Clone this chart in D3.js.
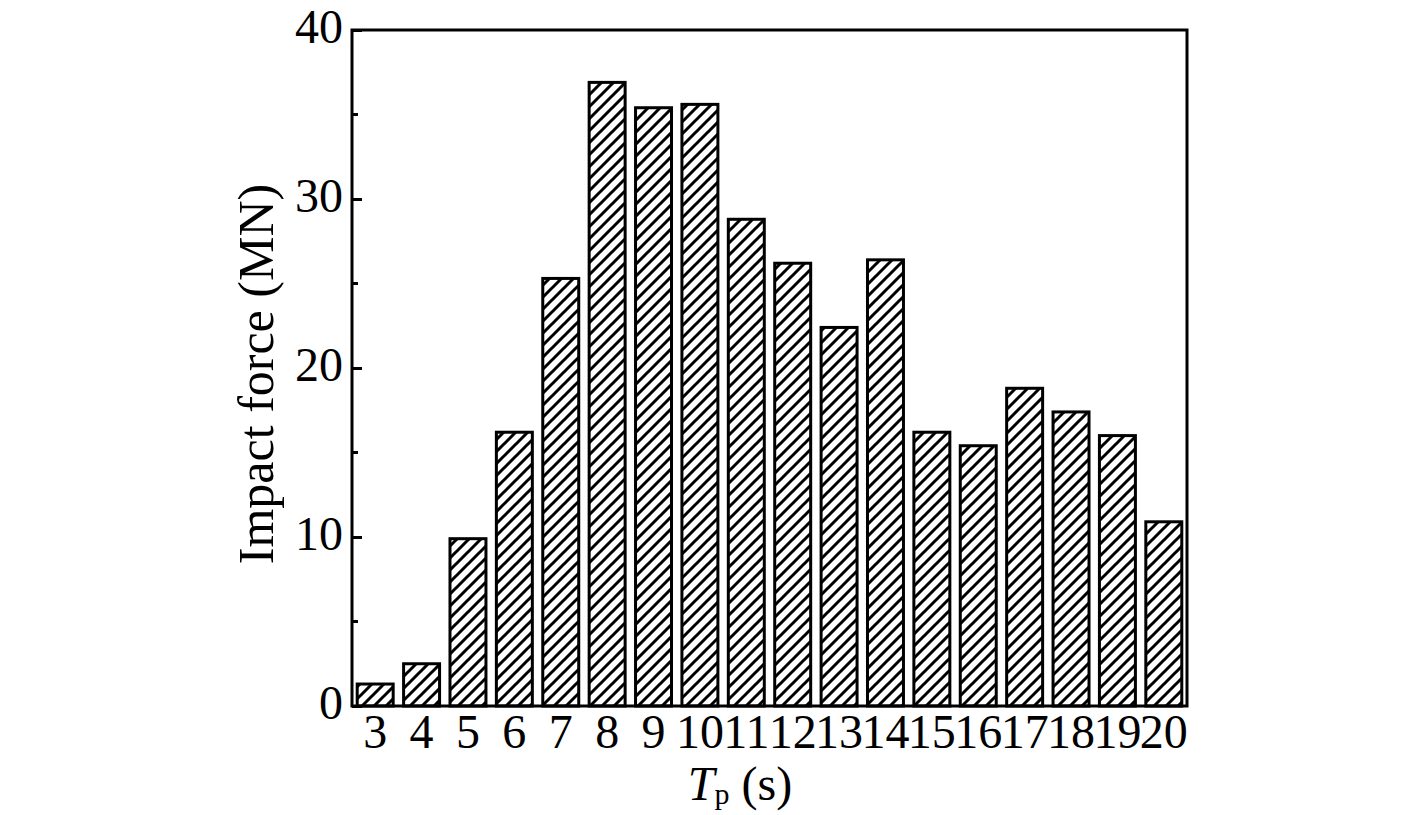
<!DOCTYPE html>
<html><head><meta charset="utf-8">
<script src="https://cdn.jsdelivr.net/npm/d3@7"></script>
<style>body{margin:0;background:#fff}svg{display:block}</style>
</head><body>
<svg id="c" width="1418" height="815"></svg>
<script>
const categories = [3,4,5,6,7,8,9,10,11,12,13,14,15,16,17,18,19,20];
const impactForce = [1.3,2.5,9.9,16.2,25.3,36.9,35.4,35.6,28.8,26.2,22.4,26.4,16.2,15.4,18.8,17.4,16.0,10.9];
const yTicks = [0,10,20,30,40];
const yMinorTicks = [5,15,25,35];

const svg = d3.select("#c");
const L = 352, R = 1187, T = 30, B = 706;
const font = "'Liberation Serif','Times New Roman',serif";

const defs = svg.append("defs");
const pat = defs.append("pattern").attr("id","hatch").attr("patternUnits","userSpaceOnUse")
  .attr("width",12).attr("height",12);
pat.append("path").attr("d","M-3,3 L3,-3 M0,12 L12,0 M9,15 L15,9")
  .attr("stroke","#000").attr("stroke-width",3);

const x = d3.scaleBand().domain(categories).range([L,R]).paddingInner(0.16).paddingOuter(0.08);
const y = d3.scaleLinear().domain([0,40]).range([B,T]);

svg.append("g").selectAll("rect").data(categories).join("rect")
  .attr("x",d=>x(d)+1.5).attr("width",x.bandwidth()-3)
  .attr("y",(d,i)=>y(impactForce[i])).attr("height",(d,i)=>B-y(impactForce[i]))
  .attr("fill","url(#hatch)").attr("stroke","#000").attr("stroke-width",3);

// frame
svg.append("rect").attr("x",L).attr("y",T).attr("width",R-L).attr("height",B-T)
  .attr("fill","none").attr("stroke","#000").attr("stroke-width",3);

// y axis
const yAxis = d3.axisLeft(y).tickValues(yTicks).tickSize(-10).tickPadding(9).tickFormat(d3.format("d"));
const gy = svg.append("g").attr("transform",`translate(${L},0)`).call(yAxis);
gy.select(".domain").remove();
gy.selectAll(".tick line").attr("stroke-width",3);
gy.selectAll(".tick text").attr("font-family",font).attr("font-size",48).attr("fill","#000").attr("dy","0.26em");
svg.append("g").selectAll("line").data(yMinorTicks).join("line")
  .attr("x1",L).attr("x2",L+6).attr("y1",d=>y(d)).attr("y2",d=>y(d))
  .attr("stroke","#000").attr("stroke-width",3);

// x axis labels
const xAxis = d3.axisBottom(x).tickSize(0).tickPadding(8);
const gx = svg.append("g").attr("transform",`translate(0,${B})`).call(xAxis);
gx.select(".domain").remove();
gx.selectAll(".tick text").attr("font-family",font).attr("font-size",48).attr("fill","#000");

// titles
svg.append("text").attr("transform",`translate(273,${(T+B)/2 + 6}) rotate(-90)`)
  .attr("text-anchor","middle").attr("font-family",font).attr("font-size",50).attr("fill","#000")
  .text("Impact force (MN)");

const xt = svg.append("text").attr("x",740).attr("y",800).attr("text-anchor","middle")
  .attr("font-family",font).attr("font-size",48).attr("fill","#000");
xt.append("tspan").attr("font-style","italic").text("T");
xt.append("tspan").attr("font-size",30).attr("dy",4).text("p");
xt.append("tspan").attr("dy",-4).text(" (s)");
</script>
</body></html>
